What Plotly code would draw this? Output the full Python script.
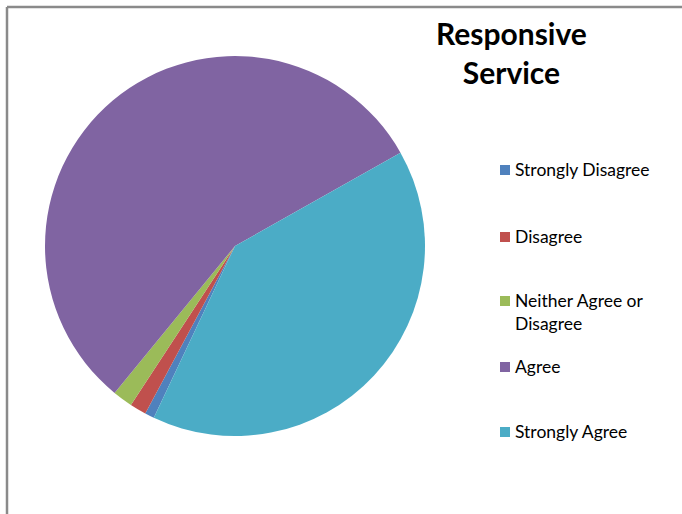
import plotly.graph_objects as go

categories = ["Strongly Disagree", "Disagree", "Neither Agree or<br>Disagree", "Agree", "Strongly Agree"]
values = [0.8, 1.4, 1.7, 55.9, 40.2]
colors = ["#4F81BD", "#C0504D", "#9BBB59", "#8064A2", "#4BACC6"]
title_text = "Responsive<br>Service"

W, H = 682, 514


def px(x):
    return x / W


def py(y):
    return 1 - y / H


cx, cy, r = 235, 246, 190

fig = go.Figure()
fig.add_trace(go.Pie(
    labels=categories,
    values=values,
    sort=False,
    direction="clockwise",
    rotation=205.3,
    marker=dict(colors=colors, line=dict(width=0)),
    textinfo="none",
    hoverinfo="label+percent",
    showlegend=False,
    domain=dict(x=[px(cx - r), px(cx + r)], y=[py(cy + r), py(cy - r)]),
))

font_family = "Lato, 'Open Sans', sans-serif"

# Legend drawn manually (Excel-style uneven spacing)
legend_y = [170, 237, 301, 367, 432]
shapes = []
annotations = []
for lab, col, ly in zip(categories, colors, legend_y):
    shapes.append(dict(type="rect", xref="paper", yref="paper",
                       x0=px(500), x1=px(510), y0=py(ly + 5), y1=py(ly - 5),
                       fillcolor=col, line=dict(width=0)))
    annotations.append(dict(text=lab, xref="paper", yref="paper", x=px(513), y=py(ly - 13),
                            xanchor="left", yanchor="top", align="left", showarrow=False,
                            font=dict(family=font_family, size=17.5, color="#000000")))

annotations.append(dict(text="<b>" + title_text.replace("<br>", "</b><br><b>") + "</b>",
                        xref="paper", yref="paper", x=px(511), y=py(13),
                        xanchor="center", yanchor="top", showarrow=False,
                        font=dict(family=font_family, size=30, color="#000000")))

# border lines (top and left)
shapes.append(dict(type="line", xref="paper", yref="paper", x0=px(7), x1=1.01, y0=py(7), y1=py(7),
                   line=dict(color="#8a8a8a", width=2.5)))
shapes.append(dict(type="line", xref="paper", yref="paper", x0=px(7), x1=px(7), y0=py(7), y1=-0.01,
                   line=dict(color="#8a8a8a", width=2.5)))

fig.update_layout(
    width=W, height=H,
    margin=dict(l=0, r=0, t=0, b=0),
    paper_bgcolor="white",
    plot_bgcolor="white",
    shapes=shapes,
    annotations=annotations,
)

fig.write_html(
    "out.html",
    config={"displayModeBar": False},
    post_script="document.body.style.margin='0';document.body.style.overflow='hidden';",
)
